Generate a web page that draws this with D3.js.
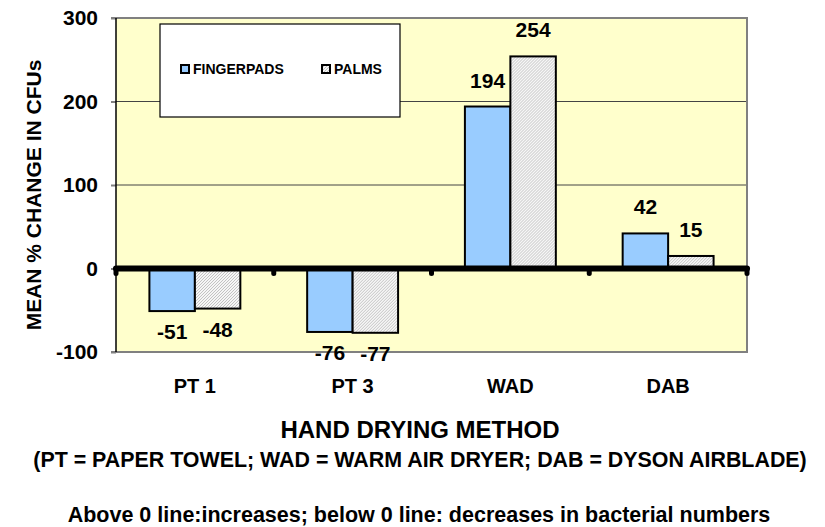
<!DOCTYPE html>
<html>
<head>
<meta charset="utf-8">
<script src="https://cdn.jsdelivr.net/npm/d3@7"></script>
<style>
  html, body { margin: 0; padding: 0; background: #ffffff; }
  svg { display: block; }
  text { font-family: "Liberation Sans", Arial, sans-serif; font-weight: bold; fill: #000; }
</style>
</head>
<body>
<svg id="chart" width="825" height="527"></svg>
<script>
const categories = ["PT 1", "PT 3", "WAD", "DAB"];
const seriesNames = ["FINGERPADS", "PALMS"];
const fingerpads = [-51, -76, 194, 42];
const palms = [-48, -77, 254, 15];
const yTicks = [-100, 0, 100, 200, 300];

const W = 825, H = 527;
const plot = { left: 116, right: 747, top: 18, bottom: 352 };

const svg = d3.select("#chart");

// pattern for PALMS
const defs = svg.append("defs");
const pat = defs.append("pattern")
  .attr("id", "hatch").attr("patternUnits", "userSpaceOnUse")
  .attr("width", 3).attr("height", 3);
pat.append("rect").attr("width", 3).attr("height", 3).attr("fill", "#f6f6f6");
pat.append("path").attr("d", "M-1,1 l2,-2 M0,3 l3,-3 M2,4 l2,-2")
  .attr("stroke", "#bdbdbd").attr("stroke-width", 0.9);

const x0 = d3.scaleBand().domain(categories).range([plot.left, plot.right]).padding(0);
const x1 = d3.scaleBand().domain(seriesNames).range([0, x0.bandwidth()])
  .paddingInner(0).paddingOuter(0.735);
const y = d3.scaleLinear().domain([-100, 300]).range([plot.bottom, plot.top]);

const colors = { FINGERPADS: "#99CCFF", PALMS: "url(#hatch)" };

// plot background
svg.append("rect")
  .attr("x", plot.left).attr("y", plot.top)
  .attr("width", plot.right - plot.left).attr("height", plot.bottom - plot.top)
  .attr("fill", "#FFFFCC");

// gridlines
svg.append("g").selectAll("line")
  .data([100, 200])
  .join("line")
  .attr("x1", plot.left).attr("x2", plot.right)
  .attr("y1", d => y(d)).attr("y2", d => y(d))
  .attr("stroke", "#444").attr("stroke-width", 1);

// border top/right/bottom (gray)
svg.append("path")
  .attr("d", `M${plot.left - 5},${y(300)} H${plot.right} V${y(-100)} H${plot.left - 5}`)
  .attr("fill", "none").attr("stroke", "#808080").attr("stroke-width", 2);

// y axis
const yAxis = d3.axisLeft(y).tickValues(yTicks).tickSize(5).tickPadding(13)
  .tickFormat(d => String(d));
const gy = svg.append("g").attr("transform", `translate(${plot.left},0)`).call(yAxis);
gy.select(".domain").remove();
gy.selectAll(".tick line").attr("stroke", "#808080").attr("stroke-width", 2);
gy.selectAll(".tick text").attr("font-size", 21).attr("font-family", "Liberation Sans, Arial, sans-serif")
  .attr("font-weight", "bold").attr("fill", "#000");
svg.append("line")
  .attr("x1", plot.left).attr("x2", plot.left)
  .attr("y1", plot.top).attr("y2", plot.bottom)
  .attr("stroke", "#000").attr("stroke-width", 1.5);

// bars
const data = categories.map((c, i) => ({
  cat: c,
  vals: [{ s: "FINGERPADS", v: fingerpads[i] }, { s: "PALMS", v: palms[i] }]
}));
const groups = svg.append("g").selectAll("g")
  .data(data).join("g")
  .attr("transform", d => `translate(${x0(d.cat)},0)`);
groups.selectAll("rect")
  .data(d => d.vals).join("rect")
  .attr("x", d => x1(d.s))
  .attr("width", x1.bandwidth())
  .attr("y", d => y(Math.max(0, d.v)))
  .attr("height", d => Math.abs(y(d.v) - y(0)))
  .attr("fill", d => colors[d.s])
  .attr("stroke", "#000").attr("stroke-width", 2);

// value labels
groups.selectAll("text.val")
  .data(d => d.vals).join("text")
  .attr("class", "val")
  .attr("x", d => x1(d.s) + x1.bandwidth() / 2)
  .attr("y", d => d.v >= 0 ? y(d.v) - 19 : y(d.v) + 28)
  .attr("text-anchor", "middle")
  .attr("font-size", 21)
  .text(d => String(d.v));

// zero line with ticks
const zero = y(0);
svg.append("line")
  .attr("x1", plot.left).attr("x2", plot.right)
  .attr("y1", zero).attr("y2", zero)
  .attr("stroke", "#000").attr("stroke-width", 6).attr("stroke-linecap", "round");
const boundaries = categories.map(c => x0(c)).concat([x0(categories[categories.length - 1]) + x0.bandwidth()]);
svg.append("g").selectAll("line")
  .data(boundaries).join("line")
  .attr("x1", d => d).attr("x2", d => d)
  .attr("y1", zero).attr("y2", zero + 5)
  .attr("stroke", "#000").attr("stroke-width", 5).attr("stroke-linecap", "round");

// x category labels
svg.append("g").selectAll("text")
  .data(categories).join("text")
  .attr("x", d => x0(d) + x0.bandwidth() / 2)
  .attr("y", 393)
  .attr("text-anchor", "middle")
  .attr("font-size", 20)
  .text(d => d);

// legend
const lg = svg.append("g");
lg.append("rect").attr("x", 160).attr("y", 24).attr("width", 240).attr("height", 93)
  .attr("fill", "#fff").attr("stroke", "#000").attr("stroke-width", 1.2);
const legendX = [181, 322];
seriesNames.forEach((s, i) => {
  lg.append("rect").attr("x", legendX[i]).attr("y", 65).attr("width", 8).attr("height", 8)
    .attr("fill", colors[s]).attr("stroke", "#000").attr("stroke-width", 2);
  lg.append("text").attr("x", legendX[i] + 12).attr("y", 74)
    .attr("font-size", 14).text(s);
});

// axis titles
svg.append("text")
  .attr("transform", "translate(41,195) rotate(-90)")
  .attr("text-anchor", "middle")
  .attr("font-size", 21)
  .text("MEAN % CHANGE IN CFUs");

svg.append("text").attr("x", 420).attr("y", 438).attr("text-anchor", "middle")
  .attr("font-size", 24).text("HAND DRYING METHOD");
svg.append("text").attr("x", 420).attr("y", 467).attr("text-anchor", "middle")
  .attr("font-size", 21.4).text("(PT = PAPER TOWEL; WAD = WARM AIR DRYER; DAB = DYSON AIRBLADE)");
svg.append("text").attr("x", 419).attr("y", 522).attr("text-anchor", "middle")
  .attr("font-size", 21.5).text("Above 0 line:increases; below 0 line: decreases in bacterial numbers");
</script>
</body>
</html>
